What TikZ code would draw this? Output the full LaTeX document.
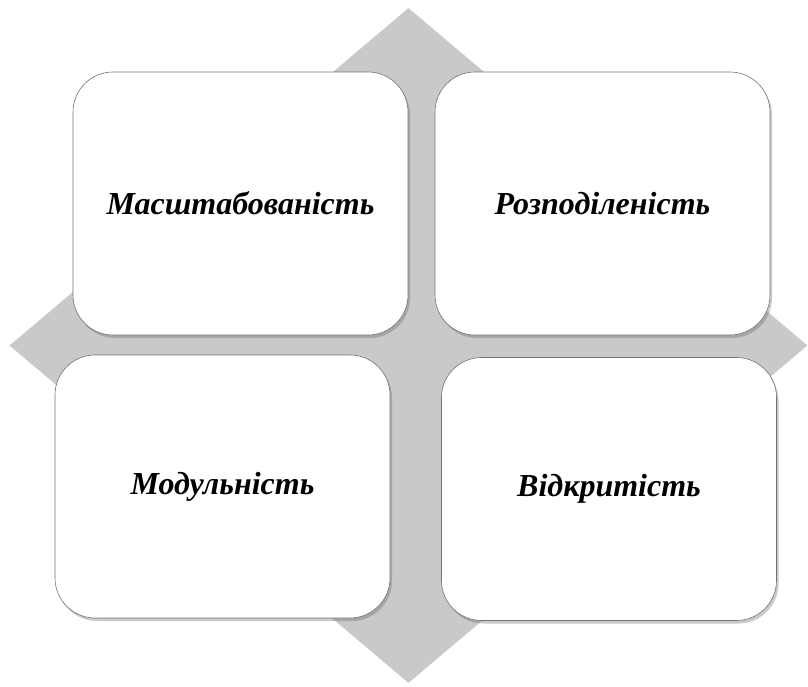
\documentclass[tikz,border=0pt]{standalone}
\usepackage{fontspec}
\setmainfont{Liberation Serif}
\usetikzlibrary{shapes.geometric,shadows}

\begin{document}
\begin{tikzpicture}[x=1pt,y=-1pt]

        \def\w{335pt}
        \def\h{263pt}

        % Styles of the background diamond and of the four boxes
        \tikzset{
            back/.style={diamond, fill=black!21, draw=none,
                minimum width=798pt, minimum height=675pt,
                inner sep=0pt, aspect=1.18},
            card/.style={rectangle, rounded corners=40pt, fill=white,
                draw=black!55, line width=0.6pt,
                minimum width=\w, minimum height=\h,
                drop shadow={shadow xshift=2pt, shadow yshift=-3pt,
                    opacity=0.35, fill=black!60},
                font=\fontsize{32}{38}\selectfont\bfseries\itshape}
        }

        \useasboundingbox (0, 0) rectangle (808, 686);

        \node[back] (D) at (408.5, 345.5) {};

        \begin{scope}
            \node[card] (B1) at (240.5, 203.5) {Масштабованість};
            \node[card] (B2) at (602.5, 203.5) {Розподіленість};
            \node[card] (B3) at (222.5, 486.5) {Модульність};
            \node[card] (B4) at (609, 489) {Відкритість};
        \end{scope}

        \end{tikzpicture}
\end{document}
